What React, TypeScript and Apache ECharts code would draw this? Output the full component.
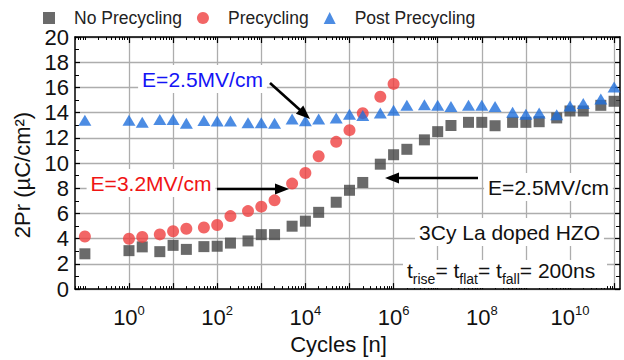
import React, { useEffect, useRef } from "react";
import * as echarts from "echarts";

// Number of cycles (n) for each measurement point
const cycles = [
  0.1, 1, 2, 5, 10, 20, 50, 100, 200, 500, 1e3, 2e3, 5e3, 1e4, 2e4, 5e4, 1e5, 2e5, 5e5, 1e6,
  2e6, 5e6, 1e7, 2e7, 5e7, 1e8, 2e8, 5e8, 1e9, 2e9, 5e9, 1e10, 2e10, 5e10, 1e11,
];
// 2Pr (µC/cm²)
const noPrecycling = [
  2.8, 3.05, 3.35, 2.97, 3.47, 3.15, 3.37, 3.4, 3.65, 3.82, 4.32, 4.32, 4.99, 5.39, 6.09, 6.89,
  7.84, 8.46, 9.91, 10.66, 11.09, 11.84, 12.49, 12.98, 13.23, 13.23, 12.96, 13.23, 13.23, 13.28,
  13.58, 14.13, 14.13, 14.58, 14.9,
];
const precycling = [
  4.17, 4.0, 4.14, 4.34, 4.59, 4.79, 4.89, 5.09, 5.79, 6.19, 6.54, 7.04, 8.37, 9.21, 10.54, 11.68,
  12.61, 13.96, 15.26, 16.28,
];
const postPrecycling = [
  13.4, 13.4, 13.23, 13.45, 13.45, 13.15, 13.38, 13.33, 13.33, 13.2, 13.2, 13.15, 13.5, 13.35,
  13.5, 13.58, 13.88, 13.78, 13.98, 14.18, 14.58, 14.63, 14.58, 14.48, 14.58, 14.58, 14.48, 14.03,
  13.88, 13.98, 13.83, 14.53, 14.73, 15.08, 16.03,
];

// axis decoration (log10 exponents)
const majorDecades = [0, 1, 2, 3, 4, 5, 6, 7, 8, 9, 10, 11];
const labelDecades = [0, 2, 4, 6, 8, 10];
const xMin = -1.224;
const xMax = 11.134;
const minorTicks: number[] = [-1];
for (let d = -2; d <= 11; d++) {
  for (let k = 2; k <= 9; k++) {
    const v = d + Math.log10(k);
    if (v > xMin && v < xMax) minorTicks.push(v);
  }
}

const FONT = "Liberation Sans, Arial, sans-serif";

function arrow(x1: number, y1: number, x2: number, y2: number) {
  const a = Math.atan2(y2 - y1, x2 - x1);
  const L = 14;
  const W = 5.5;
  const bx = x2 - L * Math.cos(a);
  const by = y2 - L * Math.sin(a);
  return [
    {
      type: "line",
      z: 10,
      shape: { x1, y1, x2: bx + Math.cos(a), y2: by + Math.sin(a) },
      style: { stroke: "#000", lineWidth: 2.6 },
    },
    {
      type: "polygon",
      z: 10,
      shape: {
        points: [
          [x2, y2],
          [bx + W * Math.sin(a), by - W * Math.cos(a)],
          [bx - W * Math.sin(a), by + W * Math.cos(a)],
        ],
      },
      style: { fill: "#000" },
    },
  ];
}

function boxText(x: number, y: number, text: string, color: string) {
  return {
    type: "text",
    z: 5,
    x,
    y,
    style: {
      text,
      fill: color,
      fontSize: 21,
      fontFamily: FONT,
      align: "center",
      verticalAlign: "middle",
      textAlign: "center",
      textVerticalAlign: "middle",
      backgroundColor: "#fff",
      padding: [4, 4, 3, 4],
    },
  };
}

export default function App() {
  const ref = useRef<HTMLDivElement>(null);
  useEffect(() => {
    if (!ref.current) return;
    const chart = echarts.init(ref.current, undefined, { renderer: "svg" });
    const lx = (c: number) => Math.log10(c);
    const baseX = {
      type: "value",
      min: xMin,
      max: xMax,
      splitLine: { show: false },
      axisLabel: { show: false },
    };
    chart.setOption({
      animation: false,
      textStyle: { fontFamily: FONT },
      grid: { left: 75, right: 4, top: 37, bottom: 56 },
      legend: {
        left: 38,
        top: 4,
        itemWidth: 12,
        itemHeight: 12,
        itemGap: 15,
        textStyle: { fontSize: 17.5, color: "#222", fontFamily: FONT, padding: [0, 0, 0, 14] },
        data: ["No Precycling", "Precycling", "Post Precycling"],
      },
      xAxis: [
        {
          ...baseX,
          position: "bottom",
          axisLine: { show: true, onZero: false, lineStyle: { color: "#000", width: 1.5 } },
          axisTick: {
            show: true,
            inside: true,
            length: 6,
            customValues: majorDecades,
            lineStyle: { color: "#000", width: 1.2 },
          },
          splitLine: { show: true, lineStyle: { color: "#adadad", width: 1.3 } },
          axisLabel: {
            show: true,
            customValues: labelDecades,
            margin: 15,
            formatter: (v: number) => `{b|10}{s|${Math.round(v)}}`,
            rich: {
              b: { fontSize: 22, lineHeight: 24, verticalAlign: "bottom", color: "#111", fontFamily: FONT },
              s: { fontSize: 13, lineHeight: 13, verticalAlign: "top", color: "#111", fontFamily: FONT },
            },
          },
          name: "Cycles [n]",
          nameLocation: "middle",
          nameGap: 41,
          nameTextStyle: { fontSize: 22, color: "#111", fontFamily: FONT, padding: [0, 18, 0, 0] },
        },
        {
          ...baseX,
          position: "bottom",
          axisLine: { show: false, onZero: false },
          axisTick: { show: true, inside: true, length: 3, customValues: minorTicks, lineStyle: { color: "#000", width: 1 } },
        },
        {
          ...baseX,
          position: "top",
          axisLine: { show: true, onZero: false, lineStyle: { color: "#000", width: 1.5 } },
          axisTick: { show: true, inside: true, length: 6, customValues: majorDecades, lineStyle: { color: "#000", width: 1.2 } },
        },
        {
          ...baseX,
          position: "top",
          axisLine: { show: false, onZero: false },
          axisTick: { show: true, inside: true, length: 3, customValues: minorTicks, lineStyle: { color: "#000", width: 1 } },
        },
      ],
      yAxis: [
        {
          type: "value",
          position: "left",
          min: 0,
          max: 20,
          interval: 2,
          axisLine: { show: true, onZero: false, lineStyle: { color: "#000", width: 1.5 } },
          axisTick: { show: true, inside: true, length: 5, lineStyle: { color: "#000", width: 1.2 } },
          minorTick: { show: true, splitNumber: 2, length: 4, lineStyle: { color: "#000", width: 1 } },
          splitLine: { show: true, lineStyle: { color: "#adadad", width: 1.3 } },
          axisLabel: { fontSize: 22, color: "#111", margin: 6, fontFamily: FONT },
          name: "2Pr (\u00b5C/cm\u00b2)",
          nameLocation: "middle",
          nameGap: 34,
          nameTextStyle: { fontSize: 22, color: "#111", fontFamily: FONT, padding: [0, 24, 0, 0] },
        },
        {
          type: "value",
          position: "right",
          min: 0,
          max: 20,
          interval: 2,
          axisLine: { show: true, onZero: false, lineStyle: { color: "#000", width: 1.5 } },
          axisTick: { show: true, inside: true, length: 5, lineStyle: { color: "#000", width: 1.2 } },
          minorTick: { show: true, splitNumber: 2, length: 4, lineStyle: { color: "#000", width: 1 } },
          splitLine: { show: false },
          axisLabel: { show: false },
        },
      ],
      series: [
        {
          name: "No Precycling",
          type: "scatter",
          symbol: "rect",
          symbolSize: 11,
          itemStyle: { color: "#454545" },
          data: cycles.map((c, i) => [lx(c), noPrecycling[i]]),
          z: 3,
        },
        {
          name: "Precycling",
          type: "scatter",
          symbol: "circle",
          symbolSize: 12,
          itemStyle: { color: "#ef4040" },
          data: precycling.map((v, i) => [lx(cycles[i]), v]),
          z: 4,
        },
        {
          name: "Post Precycling",
          type: "scatter",
          symbol: "triangle",
          symbolSize: [13, 11],
          itemStyle: { color: "#1f6fdc" },
          data: cycles.map((c, i) => [lx(c), postPrecycling[i]]),
          z: 5,
        },
      ],
      graphic: [
        boxText(202.5, 79, "E=2.5MV/cm", "#1414f5"),
        ...arrow(270, 83, 310, 119),
        boxText(151, 183, "E=3.2MV/cm", "#f01414"),
        ...arrow(217, 189, 289, 189),
        boxText(548.5, 187, "E=2.5MV/cm", "#111"),
        ...arrow(478, 178, 385, 178),
        boxText(509.5, 232, "3Cy La doped HZO", "#111"),
        {
          type: "rect",
          z: 4,
          shape: { x: 403, y: 260, width: 204, height: 28 },
          style: { fill: "#fff" },
        },
        {
          type: "text",
          z: 5,
          x: 407,
          y: 260,
          style: {
            text: "{n|t}{u|rise}{n|= t}{u|flat}{n|= t}{u|fall}{n|= 200ns}",
            align: "left",
            verticalAlign: "top",
            textAlign: "left",
            textVerticalAlign: "top",
            rich: {
              n: { fontSize: 21, lineHeight: 24, verticalAlign: "top", fill: "#111", color: "#111", fontFamily: FONT },
              u: { fontSize: 14, lineHeight: 38, fill: "#111", color: "#111", fontFamily: FONT },
            },
          },
        },
      ],
    });
    return () => chart.dispose();
  }, []);
  return (
    <div
      ref={ref}
      style={{ position: "fixed", left: 0, top: 0, width: 624, height: 360, background: "#fff" }}
    />
  );
}
